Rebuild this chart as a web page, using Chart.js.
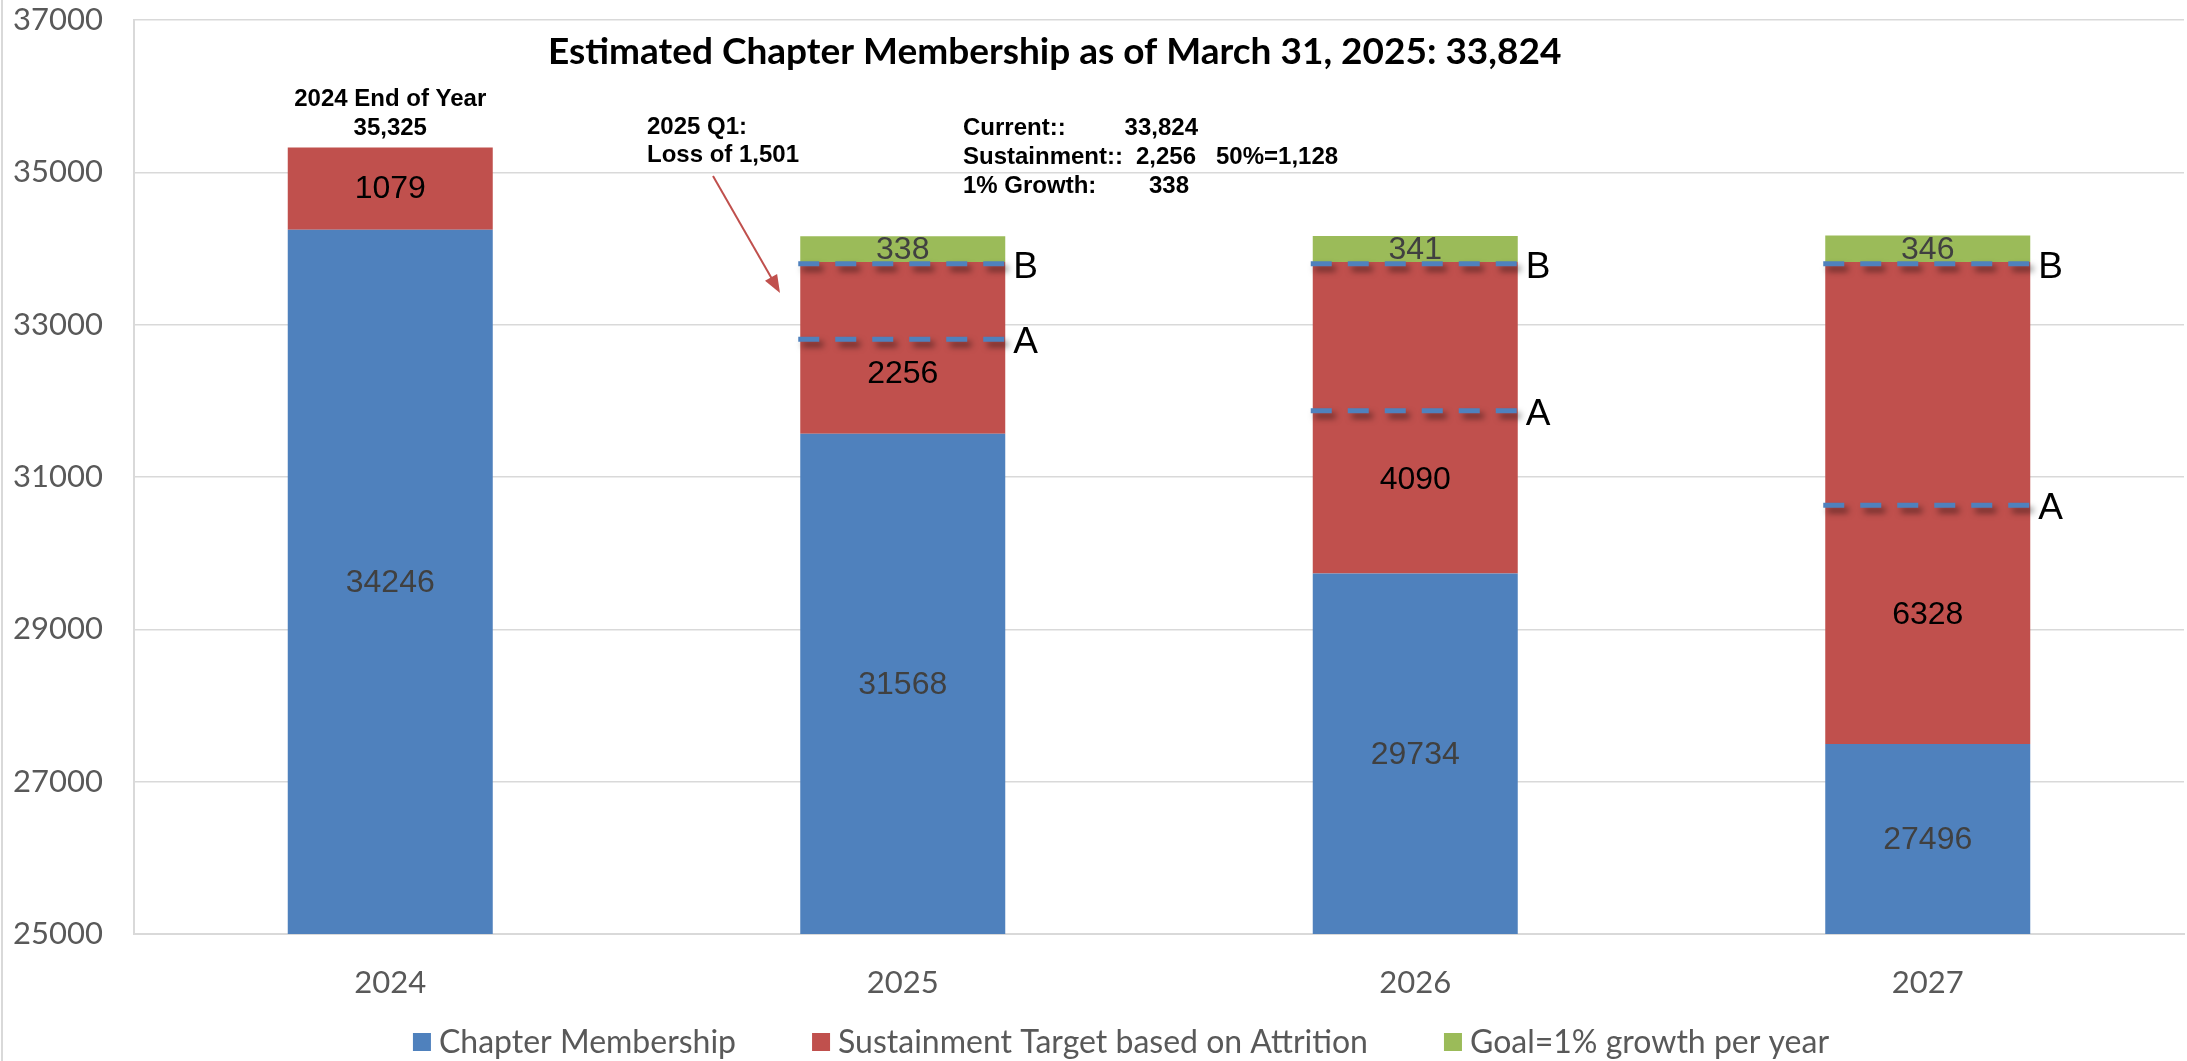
<!DOCTYPE html>
<html>
<head>
<meta charset="utf-8">
<script src="https://cdn.jsdelivr.net/npm/chart.js@4.4.1/dist/chart.umd.min.js"></script>
<style>
  html, body { margin: 0; padding: 0; background: #fff; }
  #wrap { width: 2187px; height: 1061px; }
</style>
</head>
<body>
<div id="wrap"><canvas id="chart" width="2187" height="1061"></canvas></div>
<script>
// values
const years = ['2024', '2025', '2026', '2027'];
const membership = [34246, 31568, 29734, 27496];
const sustainment = [1079, 2256, 4090, 6328];
const growth = [null, 338, 341, 346];
// dashed markers: B = current membership, A = half of sustainment target
const markerB = [null, 33800, 33800, 33800];
const markerA = [null, 32810, 31870, 30630];
const yMin = 25000, yMax = 37000, yStep = 2000;

const BLUE = '#4F81BD', RED = '#C0504D', GREEN = '#9BBB59';
const LATO = 'Lato, "Noto Sans", sans-serif';
const ARIAL = '"Liberation Sans", Arial, sans-serif';

// where Excel put the red value labels (value units), it is not the segment centre
const redLabelAt = [null, 32357, 30967, 29197];

const labelsPlugin = {
  id: 'segLabels',
  afterDatasetsDraw(chart) {
    const ctx = chart.ctx, area = chart.chartArea, y = chart.scales.y;
    ctx.save();
    ctx.font = '32px ' + ARIAL;
    ctx.textAlign = 'center';
    ctx.textBaseline = 'middle';
    chart.data.datasets.forEach((ds, di) => {
      chart.getDatasetMeta(di).data.forEach((bar, i) => {
        const v = ds.data[i];
        if (v == null) return;
        const top = Math.max(bar.y, area.top);
        const bottom = Math.min(bar.base, area.bottom);
        let cy = (top + bottom) / 2;
        if (di === 1 && redLabelAt[i] != null) cy = y.getPixelForValue(redLabelAt[i]);
        ctx.fillStyle = di === 1 ? '#000000' : '#404040';
        ctx.fillText(String(v), bar.x, cy + 1);
      });
    });
    ctx.restore();
  }
};

const markersPlugin = {
  id: 'markers',
  afterDatasetsDraw(chart) {
    const ctx = chart.ctx, y = chart.scales.y;
    const bars = chart.getDatasetMeta(0).data;
    ctx.save();
    const drawLine = (vals, letter) => {
      vals.forEach((v, i) => {
        if (v == null) return;
        const b = bars[i];
        const x0 = b.x - b.width / 2 - 2, x1 = b.x + b.width / 2 + 2;
        const py = y.getPixelForValue(v);
        ctx.save();
        ctx.shadowColor = 'rgba(0,0,0,0.5)';
        ctx.shadowBlur = 6;
        ctx.shadowOffsetX = 4;
        ctx.shadowOffsetY = 5;
        ctx.strokeStyle = BLUE;
        ctx.lineWidth = 5;
        ctx.setLineDash([21, 16]);
        ctx.beginPath();
        ctx.moveTo(x0, py);
        ctx.lineTo(x1, py);
        ctx.stroke();
        ctx.restore();
        ctx.fillStyle = '#000';
        ctx.font = '37px ' + ARIAL;
        ctx.textAlign = 'left';
        ctx.textBaseline = 'middle';
        ctx.fillText(letter, x1 + 6, py + 4);
      });
    };
    drawLine(markerB, 'B');
    drawLine(markerA, 'A');
    ctx.restore();
  }
};

const notesPlugin = {
  id: 'notes',
  beforeDraw(chart) {
    const ctx = chart.ctx;
    ctx.save();
    ctx.strokeStyle = '#D9D9D9';
    ctx.lineWidth = 2;
    ctx.beginPath();
    ctx.moveTo(2, 0);
    ctx.lineTo(2, chart.height);
    ctx.stroke();
    ctx.restore();
  },
  afterDraw(chart) {
    const ctx = chart.ctx, a = chart.chartArea, y = chart.scales.y;
    const bars = chart.getDatasetMeta(0).data;
    ctx.save();
    // title
    ctx.fillStyle = '#000';
    ctx.font = 'bold 37px ' + LATO;
    ctx.textAlign = 'left';
    ctx.textBaseline = 'middle';
    ctx.fillText('Estimated Chapter Membership as of March 31, 2025: 33,824', a.left + 414, a.top + 32);

    // small bold notes
    ctx.font = 'bold 24px ' + ARIAL;
    ctx.textAlign = 'center';
    const topPx = y.getPixelForValue(membership[0] + sustainment[0]);
    ctx.fillText('2024 End of Year', bars[0].x, topPx - 48);
    ctx.fillText('35,325', bars[0].x, topPx - 19);

    ctx.textAlign = 'left';
    ctx.fillText('2025 Q1:', a.left + 513, a.top + 107);
    ctx.fillText('Loss of 1,501', a.left + 513, a.top + 135);

    const nx = a.left + 829;
    ctx.fillText('Current::', nx, a.top + 108);
    ctx.fillText('Sustainment::', nx, a.top + 137);
    ctx.fillText('1% Growth:', nx, a.top + 166);
    ctx.textAlign = 'right';
    ctx.fillText('33,824', a.left + 1064, a.top + 108);
    ctx.fillText('2,256', a.left + 1062, a.top + 137);
    ctx.fillText('338', a.left + 1055, a.top + 166);
    ctx.textAlign = 'left';
    ctx.fillText('50%=1,128', a.left + 1082, a.top + 137);

    // arrow towards the 2025 bar
    const sx = a.left + 579, sy = a.top + 156;
    const tx = a.left + 646, ty = a.top + 273;
    const ang = Math.atan2(ty - sy, tx - sx);
    ctx.strokeStyle = RED;
    ctx.fillStyle = RED;
    ctx.lineWidth = 2;
    ctx.beginPath();
    ctx.moveTo(sx, sy);
    ctx.lineTo(tx - 14 * Math.cos(ang), ty - 14 * Math.sin(ang));
    ctx.stroke();
    ctx.beginPath();
    ctx.moveTo(tx, ty);
    ctx.lineTo(tx - 18 * Math.cos(ang) + 7 * Math.sin(ang), ty - 18 * Math.sin(ang) - 7 * Math.cos(ang));
    ctx.lineTo(tx - 18 * Math.cos(ang) - 7 * Math.sin(ang), ty - 18 * Math.sin(ang) + 7 * Math.cos(ang));
    ctx.closePath();
    ctx.fill();

    // legend
    ctx.font = '32px ' + LATO;
    ctx.textBaseline = 'middle';
    const items = chart.data.datasets.map(d => ({ text: d.label, color: d.backgroundColor }));
    const box = 18, gapText = 8, gapItem = 76;
    let total = 0;
    items.forEach((it, i) => {
      it.w = box + gapText + ctx.measureText(it.text).width;
      total += it.w + (i ? gapItem : 0);
    });
    let lx = (a.left + a.right) / 2 - 38 - total / 2;
    const ly = chart.height - 19;
    items.forEach(it => {
      ctx.fillStyle = it.color;
      ctx.fillRect(lx, ly - box / 2, box, box);
      ctx.fillStyle = '#595959';
      ctx.fillText(it.text, lx + box + gapText, ly + 1);
      lx += it.w + gapItem;
    });
    ctx.restore();
  }
};

new Chart(document.getElementById('chart'), {
  type: 'bar',
  data: {
    labels: years,
    datasets: [
      { label: 'Chapter Membership', data: membership, backgroundColor: BLUE },
      { label: 'Sustainment Target based on Attrition', data: sustainment, backgroundColor: RED },
      { label: 'Goal=1% growth per year', data: growth, backgroundColor: GREEN }
    ]
  },
  options: {
    responsive: false,
    animation: false,
    devicePixelRatio: 1,
    categoryPercentage: 1,
    barPercentage: 0.4,
    layout: { padding: { top: 20, left: 12, right: 3, bottom: 66 } },
    plugins: {
      legend: { display: false },
      title: { display: false },
      tooltip: { enabled: false }
    },
    scales: {
      x: {
        stacked: true,
        grid: { display: false, drawTicks: false },
        border: { color: '#D9D9D9', width: 2 },
        ticks: { padding: 30, color: '#595959', font: { family: LATO, size: 31 } },
        afterFit(s) { s.height = 61; s.paddingLeft = 0; s.paddingRight = 0; }
      },
      y: {
        stacked: true,
        min: yMin,
        max: yMax,
        grid: { color: '#D9D9D9', lineWidth: 1.5, drawTicks: false },
        border: { color: '#D9D9D9', width: 2 },
        ticks: {
          stepSize: yStep,
          padding: 31,
          color: '#595959',
          font: { family: LATO, size: 31 },
          callback: v => String(v)
        },
        afterFit(s) { s.width = 122; s.paddingTop = 0; s.paddingBottom = 0; }
      }
    }
  },
  plugins: [labelsPlugin, markersPlugin, notesPlugin]
});
</script>
</body>
</html>
